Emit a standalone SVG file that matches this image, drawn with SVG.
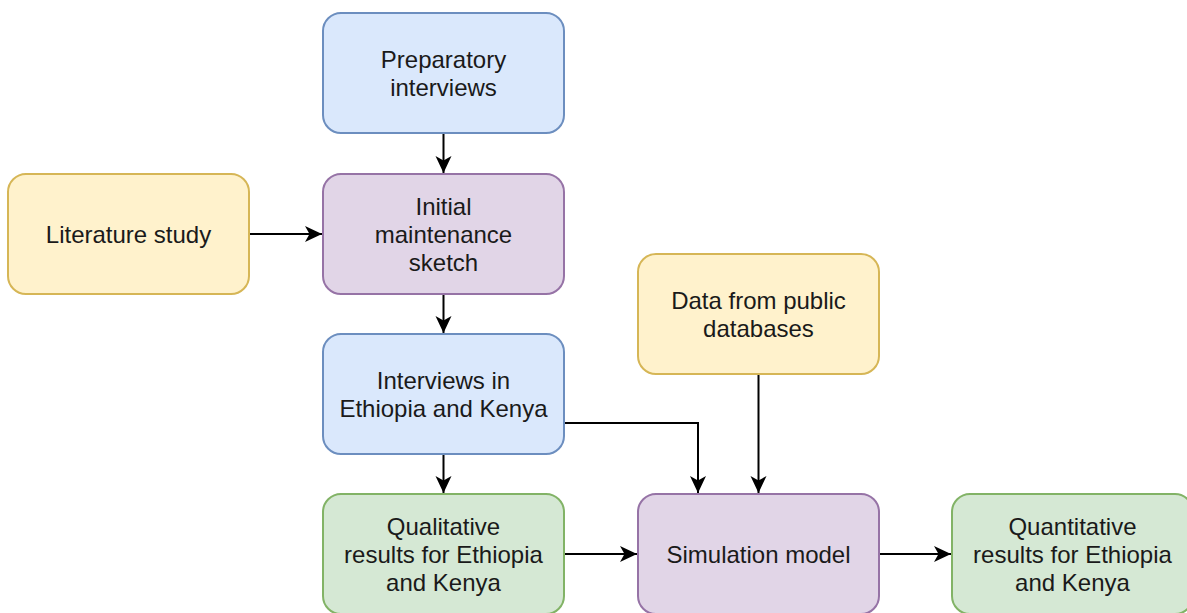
<svg xmlns="http://www.w3.org/2000/svg" width="1187" height="613" viewBox="0 0 1187 613">
<defs>
<marker id="arr" markerUnits="userSpaceOnUse" markerWidth="20" markerHeight="20" viewBox="-18 -10 20 20" refX="0" refY="0" orient="auto">
<path d="M0,0 L-17,-8 L-12.5,0 L-17,8 Z" fill="#000"/>
</marker>
</defs>
<style>
rect{stroke-width:2}
.blue{fill:#dae8fc;stroke:#6c8ebf}
.yellow{fill:#fff2cc;stroke:#d6b656}
.purple{fill:#e1d5e7;stroke:#9673a6}
.green{fill:#d5e8d4;stroke:#82b366}
text{font-family:"Liberation Sans",Arial,sans-serif;font-size:24px;fill:#1a1a1a;text-anchor:middle}
.edge{fill:none;stroke:#000;stroke-width:2;marker-end:url(#arr)}
</style>
<rect width="1187" height="613" fill="#fff"/>
<g id="connectors">
<path class="edge" d="M443.5,133 L443.5,173"/>
<path class="edge" d="M249,234 L322,234"/>
<path class="edge" d="M443.5,294 L443.5,333"/>
<path class="edge" d="M443.5,454 L443.5,493"/>
<path class="edge" d="M564,423 L698,423 L698,493"/>
<path class="edge" d="M758.5,374 L758.5,493"/>
<path class="edge" d="M564,554 L637,554"/>
<path class="edge" d="M879,554 L951,554"/>
</g>
<g id="preparatory">
<rect class="blue" x="323" y="13" width="241" height="120" rx="18"/>
<text x="443.5" y="68">Preparatory</text>
<text x="443.5" y="96">interviews</text>
</g>
<g id="literature">
<rect class="yellow" x="8" y="174" width="241" height="120" rx="18"/>
<text x="128.5" y="243">Literature study</text>
</g>
<g id="sketch">
<rect class="purple" x="323" y="174" width="241" height="120" rx="18"/>
<text x="443.5" y="215">Initial</text>
<text x="443.5" y="243">maintenance</text>
<text x="443.5" y="271">sketch</text>
</g>
<g id="data">
<rect class="yellow" x="638" y="254" width="241" height="120" rx="18"/>
<text x="758.5" y="309">Data from public</text>
<text x="758.5" y="337">databases</text>
</g>
<g id="interviews">
<rect class="blue" x="323" y="334" width="241" height="120" rx="18"/>
<text x="443.5" y="389">Interviews in</text>
<text x="443.5" y="417">Ethiopia and Kenya</text>
</g>
<g id="qualitative">
<rect class="green" x="323" y="494" width="241" height="120" rx="18"/>
<text x="443.5" y="535">Qualitative</text>
<text x="443.5" y="563">results for Ethiopia</text>
<text x="443.5" y="591">and Kenya</text>
</g>
<g id="simulation">
<rect class="purple" x="638" y="494" width="241" height="120" rx="18"/>
<text x="758.5" y="563">Simulation model</text>
</g>
<g id="quantitative">
<rect class="green" x="952" y="494" width="241" height="120" rx="18"/>
<text x="1072.5" y="535">Quantitative</text>
<text x="1072.5" y="563">results for Ethiopia</text>
<text x="1072.5" y="591">and Kenya</text>
</g>
</svg>
